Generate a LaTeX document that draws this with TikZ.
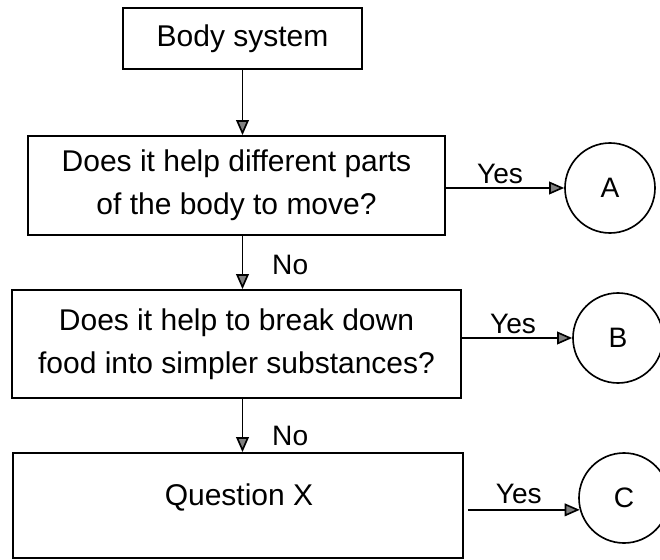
\documentclass[tikz,border=0pt]{standalone}
\usepackage{fontspec}
\setmainfont{Liberation Sans}
\usetikzlibrary{arrows.meta}

\tikzset{
  qbox/.style={draw, line width=1.5pt, align=center, inner sep=0pt,
    font=\fontsize{25.6}{36.5}\selectfont},
  endpt/.style={draw, circle, line width=1.4pt, minimum size=2.7cm,
    inner sep=0pt, font=\fontsize{24}{28}\selectfont},
  flow/.style={line width=1.4pt,
    -{Triangle[length=0.45cm,width=0.38cm,fill=gray]}},
  lbl/.style={font=\fontsize{24}{28}\selectfont}
}

\begin{document}
\begin{tikzpicture}[x=0.03cm, y=-0.03cm]
  % 1 unit = 1 px of the 660x560 frame, y runs downwards
  \useasboundingbox (0,0) rectangle (660,560);

  % Question boxes (centres in px)
  \node[qbox, minimum width=7.17cm, minimum height=1.83cm] (body) at (242.5,38.5) {Body system};
  \node[qbox, minimum width=12.51cm, minimum height=2.97cm] (move) at (236.5,185.5)
    {Does it help different parts\\of the body to move?};
  \node[qbox, minimum width=13.47cm, minimum height=3.24cm] (food) at (236.5,344)
    {Does it help to break down\\food into simpler substances?};
  \node[qbox, minimum width=13.5cm, minimum height=3.15cm] (qx) at (238,505.5) {};
  \node[font=\fontsize{25.6}{36.5}\selectfont] (qxtext) at (239,497) {Question X};

  % End circles
  \node[endpt] (A) at (610,188) {A};
  \node[endpt] (B) at (618,338) {B};
  \node[endpt] (C) at (624,498) {C};

  % Down the chain
  \draw[flow] (body.south) -- (body |- move.north);
  \draw[flow] (body |- move.south) -- (body |- food.north)
    node[lbl, pos=0.55, right, xshift=0.75cm] {No};
  \draw[flow] (body |- food.south) -- (body |- qx.north)
    node[lbl, pos=0.7, right, xshift=0.75cm] {No};

  % Yes branches
  \draw[flow] (move.east |- A) -- (A)
    node[lbl, midway, above, xshift=-0.15cm] {Yes};
  \draw[flow] (food.east |- B) -- (B)
    node[lbl, midway, above, xshift=-0.12cm] {Yes};
  \draw[flow] ([xshift=0.12cm]qx.east |- C.195) -- (C.195)
    node[lbl, midway, above, xshift=-0.15cm, yshift=0.05cm] {Yes};
\end{tikzpicture}
\end{document}
